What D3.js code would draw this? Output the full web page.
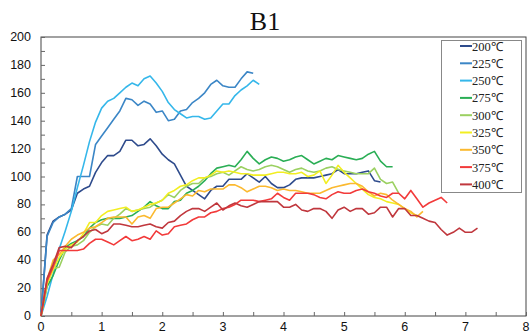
<!DOCTYPE html>
<html>
<head>
<meta charset="utf-8">
<script src="https://cdn.jsdelivr.net/npm/d3@7/dist/d3.min.js"></script>
<style>
  html, body { margin: 0; padding: 0; background: #fff; }
  svg { display: block; font-family: "Liberation Serif", "Times New Roman", serif; }
</style>
</head>
<body>
<svg id="chart"></svg>
<script>
// series labels and colours
const labels = ["200℃", "225℃", "250℃", "275℃", "300℃", "325℃", "350℃", "375℃", "400℃"];
const colors = ["#2e4b8c", "#3b86c6", "#35b7ea", "#2aae55", "#9bd061", "#f2ee22", "#fbb92f", "#f23a3a", "#c0373d"];

// sampled every 0.1 on the x axis, starting at 0
const step = 0.1;
const s200 = [0, 58, 68, 71, 73, 76, 88, 91, 93, 103, 110, 115, 115, 118, 126, 126, 122, 123, 127, 122,
  116, 112, 109, 101, 93, 90, 87, 84, 90, 93, 93, 98, 98, 98, 102, 99, 96, 100, 95, 92,
  92, 94, 98, 99, 99, 99, 100, 101, 102, 105, 102, 102, 102, 103, 104, 97, 96];
const s225 = [0, 57, 67, 71, 73, 77, 100, 100, 100, 123, 129, 135, 141, 147, 156, 155, 151, 154, 152, 146,
  147, 140, 141, 147, 148, 153, 156, 160, 166, 169, 165, 164, 164, 170, 175, 174];
const s250 = [0, 14, 30, 48, 61, 75, 92, 108, 125, 139, 149, 154, 156, 160, 164, 167, 165, 170, 172, 167,
  161, 153, 148, 145, 142, 143, 143, 141, 142, 147, 152, 152, 158, 162, 165, 169, 166];
const s275 = [0, 21, 29, 40, 49, 52, 54, 57, 63, 67, 69, 70, 70, 70, 71, 72, 75, 78, 82, 79,
  77, 77, 82, 83, 88, 90, 93, 97, 102, 106, 107, 108, 107, 112, 118, 113, 109, 112, 114, 113,
  111, 112, 114, 115, 112, 109, 111, 113, 112, 115, 114, 113, 112, 113, 116, 118, 111, 107, 107];
const s300 = [0, 23, 34, 35, 46, 50, 51, 54, 60, 64, 66, 65, 70, 73, 77, 75, 76, 77, 78, 81,
  83, 87, 85, 90, 93, 95, 95, 99, 100, 102, 103, 101, 104, 107, 105, 104, 105, 107, 108, 107,
  105, 103, 105, 106, 104, 103, 104, 106, 107, 105, 104, 103, 102, 102, 102, 106, 98, 95, 96, 88];
const s325 = [0, 23, 33, 42, 48, 51, 53, 59, 67, 67, 72, 75, 76, 77, 78, 75, 76, 78, 80, 81,
  83, 88, 90, 93, 94, 97, 99, 99, 101, 104, 103, 104, 103, 102, 102, 101, 101, 101, 102, 103,
  103, 102, 102, 103, 100, 101, 104, 95, 101, 108, 103, 99, 95, 91, 87, 85, 84, 82, 81, 80,
  77, 74, 72];
const s350 = [0, 26, 40, 44, 50, 55, 58, 60, 63, 64, 67, 70, 71, 71, 71, 66, 71, 72, 70, 77,
  78, 78, 81, 84, 87, 86, 90, 89, 91, 91, 91, 94, 94, 92, 89, 91, 93, 93, 92, 90,
  91, 90, 90, 89, 88, 88, 88, 90, 92, 93, 94, 95, 95, 93, 89, 86, 88, 87, 83, 80,
  77, 75, 71, 75];
const s375 = [0, 25, 35, 47, 47, 47, 47, 48, 52, 55, 55, 53, 51, 54, 57, 54, 55, 57, 55, 61,
  58, 59, 64, 65, 66, 69, 71, 71, 74, 75, 77, 78, 80, 83, 83, 83, 82, 83, 84, 88,
  85, 83, 88, 88, 88, 87, 85, 84, 87, 89, 88, 88, 90, 91, 89, 88, 86, 85, 88, 88,
  84, 90, 84, 78, 81, 83, 85, 81];
const s400 = [0, 27, 37, 49, 50, 49, 54, 57, 61, 62, 59, 61, 66, 66, 65, 64, 64, 65, 66, 64,
  63, 67, 68, 72, 75, 77, 77, 75, 78, 81, 76, 79, 81, 79, 78, 80, 82, 82, 82, 82,
  78, 78, 80, 76, 75, 77, 77, 75, 70, 76, 78, 75, 77, 77, 73, 74, 78, 78, 71, 77,
  77, 72, 72, 70, 68, 67, 62, 58, 60, 63, 60, 60, 63];
const series = [s200, s225, s250, s275, s300, s325, s350, s375, s400];

// axis ticks
const xTicks = [0, 1, 2, 3, 4, 5, 6, 7, 8];
const yTicks = [0, 20, 40, 60, 80, 100, 120, 140, 160, 180, 200];

// svg canvas
const width = 532;
const height = 336;
const marge = { top: 37, bottom: 20, left: 41, right: 6 };

const svg = d3.select("#chart").attr("width", width).attr("height", height);

const xScale = d3.scaleLinear().domain([0, 8]).range([marge.left, width - marge.right]);
const yScale = d3.scaleLinear().domain([0, 200]).range([height - marge.bottom, marge.top]);

// title
svg.append("text")
  .attr("x", 265)
  .attr("y", 30)
  .attr("text-anchor", "middle")
  .attr("font-size", 26)
  .attr("fill", "#111")
  .text("B1");

// frame round the plot
svg.append("rect")
  .attr("x", xScale(0))
  .attr("y", yScale(200))
  .attr("width", xScale(8) - xScale(0))
  .attr("height", yScale(0) - yScale(200))
  .attr("fill", "none")
  .attr("stroke", "#444")
  .attr("stroke-width", 1);

// y axis, minor ticks every 10 pointing inward
const gay = svg.append("g").attr("transform", `translate(${xScale(0)},0)`);
gay.call(d3.axisRight(yScale).tickValues(d3.range(0, 201, 10)).tickSize(4).tickFormat(""));
gay.select(".domain").remove();
gay.selectAll("line").attr("stroke", "#666");
gay.selectAll(".lbl")
  .data(yTicks)
  .enter()
  .append("text")
  .attr("class", "lbl")
  .attr("x", -10)
  .attr("y", d => yScale(d) + 4)
  .attr("text-anchor", "end")
  .attr("font-size", 12.5)
  .attr("fill", "#111")
  .text(d => d);

// x axis, ticks every 0.5 pointing inward
const gax = svg.append("g").attr("transform", `translate(0,${yScale(0)})`);
gax.call(d3.axisTop(xScale).tickValues(d3.range(0, 8.01, 0.5)).tickSize(4).tickFormat(""));
gax.select(".domain").remove();
gax.selectAll("line").attr("stroke", "#666");
gax.selectAll(".lbl")
  .data(xTicks)
  .enter()
  .append("text")
  .attr("class", "lbl")
  .attr("x", d => xScale(d))
  .attr("y", 15)
  .attr("text-anchor", "middle")
  .attr("font-size", 12.5)
  .attr("fill", "#111")
  .text(d => d);

// lines
const line = d3.line()
  .x((d, i) => xScale(i * step))
  .y(d => yScale(d));

svg.append("g")
  .selectAll("path")
  .data(series)
  .enter()
  .append("path")
  .attr("d", d => line(d))
  .attr("fill", "none")
  .attr("stroke", (d, i) => colors[i])
  .attr("stroke-width", 1.6)
  .attr("stroke-linejoin", "round");

// legend
const legend = svg.append("g");
legend.append("rect")
  .attr("x", 441.5)
  .attr("y", 40.5)
  .attr("width", 80)
  .attr("height", 152)
  .attr("fill", "#fff")
  .attr("stroke", "#888");
const items = legend.selectAll(".item")
  .data(labels)
  .enter()
  .append("g")
  .attr("class", "item")
  .attr("transform", (d, i) => `translate(0,${46 + i * 17.3})`);
items.append("line")
  .attr("x1", 460).attr("x2", 472)
  .attr("y1", 0).attr("y2", 0)
  .attr("stroke", (d, i) => colors[i])
  .attr("stroke-width", 2);
items.append("text")
  .attr("x", 472)
  .attr("y", 4.5)
  .attr("font-size", 12.5)
  .attr("fill", "#222")
  .text(d => d);
</script>
</body>
</html>
